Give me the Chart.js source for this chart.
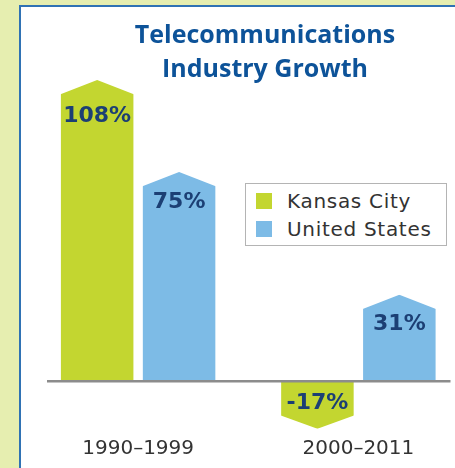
<!DOCTYPE html>
<html lang="en">
<head>
<meta charset="UTF-8">
<title>Telecommunications Industry Growth</title>
<script src="https://cdn.jsdelivr.net/npm/chart.js@4"></script>
<style>
    html, body { margin: 0; padding: 0; }
    body {
        width: 455px; height: 468px; overflow: hidden; position: relative;
        background: #e6eeb0; font-family: "DejaVu Sans", sans-serif;
    }
    #panel {
        position: absolute; left: 19px; top: 5px; width: 480px; height: 500px;
        background: #fff; border-left: 2px solid #2f72b4; border-top: 2px solid #2f72b4;
    }
    #chart_container { position: absolute; left: 0; top: 0; width: 480px; height: 468px; }
    #title {
        position: absolute; left: 65px; top: 16px; width: 400px; text-align: center;
        font: bold 25px/34px "Open Sans", sans-serif; color: #0d5399;
    }
    #legend {
        position: absolute; left: 245px; top: 183px; width: 200px; height: 61px;
        border: 1.5px solid #b4b4b4; background: #fff;
    }
    .legend_row { position: absolute; left: 10px; height: 20px; display: flex; align-items: center; }
    .legend_box { width: 16px; height: 16px; margin-right: 15px; }
    .legend_text { font: 20px "DejaVu Sans", sans-serif; letter-spacing: 0.7px; color: #333; white-space: nowrap; }
</style>
</head>
<body>
    <div id="panel"></div>
    <div id="chart_container">
        <canvas id="chart_canvas" width="480" height="468"></canvas>
    </div>
    <div id="title">Telecommunications<br>Industry Growth</div>
    <div id="legend"></div>

<script>
    // Chart data
    const categories = ['1990–1999', '2000–2011'];
    const seriesNames = ['Kansas City', 'United States'];
    const kansasCity = [108, -17];
    const unitedStates = [75, 31];

    const GREEN = '#c3d630', BLUE = '#7dbbe6';
    const LABEL_COLOR = '#1c3f74';
    // how far below the point each series writes its value
    const LABEL_DROP = [36, 30];

    // Build the legend as plain html so it can sit in its box
    const legend = document.getElementById('legend');
    [GREEN, BLUE].forEach((color, i) => {
        const row = document.createElement('div');
        row.className = 'legend_row';
        row.style.top = (7 + i * 28) + 'px';
        row.innerHTML = '<div class="legend_box" style="background:' + color + '"></div>' +
            '<span class="legend_text">' + seriesNames[i] + '</span>';
        legend.appendChild(row);
    });

    // Cuts the bar ends into points, writes the values and draws the zero line
    const shapePlugin = {
        id: 'shapes',
        afterDatasetsDraw(chart) {
            const ctx = chart.ctx;
            const zero = chart.scales.y.getPixelForValue(0);
            ctx.save();
            chart.data.datasets.forEach((ds, i) => {
                chart.getDatasetMeta(i).data.forEach((bar, j) => {
                    const value = ds.data[j];
                    const half = bar.width / 2;
                    const left = bar.x - half - 1, right = bar.x + half + 1;
                    const s = value >= 0 ? 1 : -1;
                    const tip = value >= 0 ? 14 : 13;

                    ctx.fillStyle = '#ffffff';
                    ctx.beginPath();
                    ctx.moveTo(left, bar.y - s);
                    ctx.lineTo(right, bar.y - s);
                    ctx.lineTo(right, bar.y + s * (tip + 0.4));
                    ctx.lineTo(bar.x, bar.y);
                    ctx.lineTo(left, bar.y + s * (tip + 0.4));
                    ctx.closePath();
                    ctx.fill();

                    ctx.fillStyle = LABEL_COLOR;
                    ctx.font = 'bold 22px "DejaVu Sans"';
                    ctx.textAlign = 'center';
                    ctx.textBaseline = 'middle';
                    const ty = value >= 0 ? bar.y + LABEL_DROP[i] : zero + 22;
                    ctx.fillText(value + '%', bar.x, ty);
                });
            });

            const area = chart.chartArea;
            ctx.strokeStyle = '#8c8c8c';
            ctx.lineWidth = 2.5;
            ctx.beginPath();
            ctx.moveTo(area.left + 19, zero);
            ctx.lineTo(area.right - 18, zero);
            ctx.stroke();
            ctx.restore();
        }
    };

    const ctx = document.getElementById('chart_canvas').getContext('2d');
    const chart = new Chart(ctx, {
        type: 'bar',
        data: {
            labels: categories,
            datasets: [{
                label: seriesNames[0],
                data: kansasCity,
                backgroundColor: GREEN
            }, {
                label: seriesNames[1],
                data: unitedStates,
                backgroundColor: BLUE
            }]
        },
        options: {
            responsive: false,
            animation: false,
            categoryPercentage: 0.744,
            barPercentage: 0.885,
            layout: { padding: { top: 74.4, bottom: 7, left: 28, right: 11.5 } },
            plugins: {
                legend: { display: false },
                title: { display: false },
                tooltip: { enabled: false }
            },
            scales: {
                x: {
                    grid: { display: false, drawTicks: false, tickLength: 0 },
                    border: { display: false },
                    ticks: {
                        color: '#333',
                        padding: 0,
                        font: { family: 'DejaVu Sans', size: 20 }
                    }
                },
                y: { display: false, min: -20, max: 110 }
            }
        },
        plugins: [shapePlugin]
    });
</script>
</body>
</html>
